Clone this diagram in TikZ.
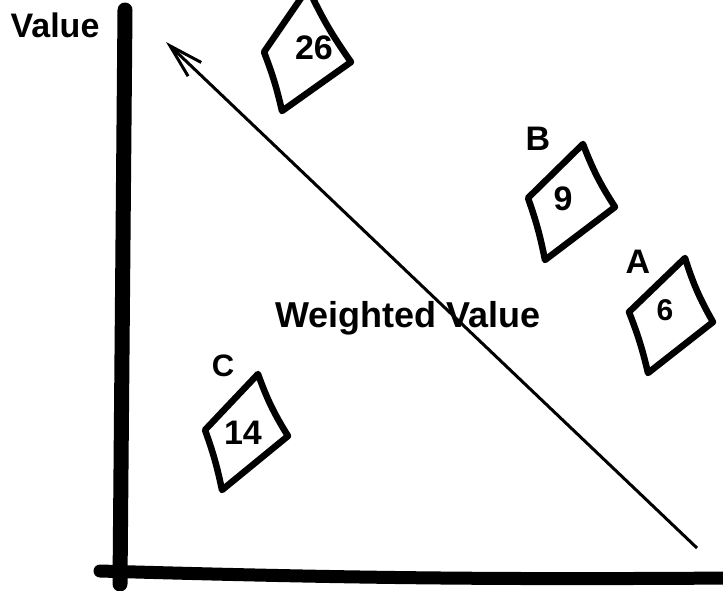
\documentclass[tikz,border=0pt]{standalone}
\usepackage{fontspec}
\setmainfont{Liberation Sans}
\usetikzlibrary{arrows.meta}

\begin{document}
\begin{tikzpicture}[
  x=1pt, y=-1pt,
  >={Straight Barb[length=34pt,width=19pt,line width=3pt]},
  axis/.style={line width=13pt, line cap=round},
  card/.style={line width=6.5pt, line join=round},
  score/.style={inner sep=0pt, font=\bfseries\fontsize{34}{36}\selectfont},
  tag/.style={inner sep=0pt, font=\bfseries\fontsize{34}{36}\selectfont}
]
  \useasboundingbox (0,0) rectangle (723,590);
  \clip (0,0) rectangle (723,590);

  % axes
  \coordinate (ytop) at (125,10);
  \coordinate (ybot) at (120,584);
  \coordinate (xleft) at (100,571);
  \coordinate (xright) at (735,578);
  \draw[axis, line width=15pt] (ytop) -- (ybot);
  \draw[axis] (xleft) to[bend right=1] (xright);
  \node[tag] (yname) at (55,25) {Value};

  % weighted value direction
  \coordinate (wlow) at (697,548);
  \coordinate (whigh) at (166,42);
  \draw[->, line width=3pt] (wlow) -- (whigh);
  \node[tag, font=\bfseries\fontsize{36}{38}\selectfont] (wname) at (408,318) {Weighted Value};

  % cards
  \node[score] (n26) at (314,48) {26};
  \draw[card] (264,52) -- (308,-12) to[bend right=5] (351,62) -- (282,111) to[bend right=4] cycle;

  \node[score] (n9) at (563,199) {9};
  \node[tag] (lb) at (538,139) {B};
  \draw[card] (528,198) -- (583,144) to[bend right=6] (615,207) -- (545,260) to[bend right=4] cycle;

  \node[score, font=\bfseries\fontsize{30}{32}\selectfont] (n6) at (665,310) {6};
  \node[tag] (la) at (638,262) {A};
  \draw[card] (629,312) -- (685,258) to[bend right=6] (713,322) -- (648,373) to[bend right=4] cycle;

  \node[score] (n14) at (243,433) {14};
  \node[tag, font=\bfseries\fontsize{31}{33}\selectfont] (lc) at (223,366) {C};
  \draw[card] (205,430) -- (258,374) to[bend right=6] (288,436) -- (222,490) to[bend right=4] cycle;
\end{tikzpicture}
\end{document}
